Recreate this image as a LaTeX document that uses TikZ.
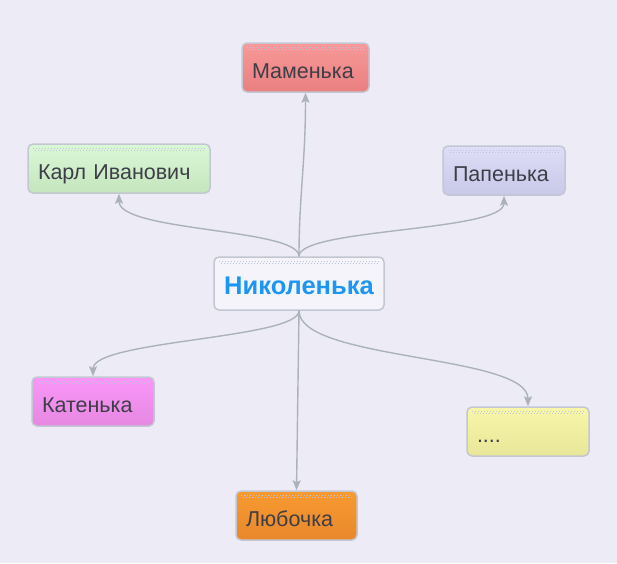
\documentclass[tikz,border=0pt]{standalone}
\usepackage{fontspec}
\setmainfont{Liberation Sans}
\usetikzlibrary{arrows.meta}
\definecolor{bgcol}{HTML}{EDECF6}
\definecolor{boxline}{HTML}{C3C7D3}
\definecolor{linkcol}{HTML}{ABB2BA}
\definecolor{txtcol}{HTML}{3E3E48}
\definecolor{nikblue}{HTML}{1B97F3}
\definecolor{dotcol}{HTML}{BEC3DE}
\tikzstyle{leaf} = [rectangle, rounded corners=5pt, minimum height=49pt, inner xsep=10pt, text height=21pt, text depth=0pt, align=left, draw=boxline, line width=1.5pt, text=txtcol, font=\fontsize{21.5}{24}\selectfont, path picture={\draw[dotcol, dash pattern=on 1pt off 2pt, line width=1pt] ([xshift=5pt,yshift=-4pt]path picture bounding box.north west) -- ([xshift=-5pt,yshift=-4pt]path picture bounding box.north east) ([xshift=6.5pt,yshift=-6pt]path picture bounding box.north west) -- ([xshift=-5pt,yshift=-6pt]path picture bounding box.north east);}]
\tikzstyle{root} = [leaf, minimum width=170pt, minimum height=53pt, align=center, fill=white!40!bgcol, text=nikblue, font=\fontsize{25.5}{28}\selectfont\bfseries]
\tikzstyle{arrow} = [draw=linkcol, line width=1.4pt, -{Stealth[length=10pt,width=8pt,inset=2pt]}]

\begin{document}
\begin{tikzpicture}[x=1pt, y=-1pt]
    \fill[bgcol] (0,0) rectangle (617,563);
    \useasboundingbox (0,0) rectangle (617,563);

    % Nodes
    \node (nik) [root] at (299,283.5) {Николенька};
    \node (mam) [leaf, top color={rgb,255:red,248;green,152;blue,152}, bottom color={rgb,255:red,233;green,128;blue,128}, text width=107pt] at (305.5,67.5) {Маменька};
    \node (karl) [leaf, top color={rgb,255:red,219;green,248;blue,214}, bottom color={rgb,255:red,196;green,229;blue,190}, text width=162pt] at (119,168.5) {Карл Иванович};
    \node (papa) [leaf, top color={rgb,255:red,222;green,222;blue,248}, bottom color={rgb,255:red,200;green,200;blue,232}, text width=102pt] at (504,170.5) {Папенька};
    \node (kat) [leaf, top color={rgb,255:red,250;green,150;blue,248}, bottom color={rgb,255:red,230;green,136;blue,226}, text width=102pt] at (93,401.5) {Катенька};
    \node (dots) [leaf, top color={rgb,255:red,248;green,246;blue,168}, bottom color={rgb,255:red,232;green,230;blue,152}, text width=102pt] at (528,431.5) {....};
    \node (lub) [leaf, top color={rgb,255:red,248;green,154;blue,48}, bottom color={rgb,255:red,232;green,136;blue,44}, text width=101pt] at (296.5,515.5) {Любочка};

    % Arrows
    \draw [arrow] (nik.north) .. controls +(0,-60) and +(0,70) .. (mam.south);
    \draw [arrow] (nik.north) .. controls +(0,-28) and +(0,38) .. (karl.south);
    \draw [arrow] (nik.north) .. controls +(0,-28) and +(0,36) .. (papa.south);
    \draw [arrow] (nik.south) .. controls +(0,28) and +(0,-36) .. (kat.north);
    \draw [arrow] (nik.south) .. controls +(0,50) and +(0,-52) .. (dots.north);
    \draw [arrow] (nik.south) -- (lub.north);
\end{tikzpicture}
\end{document}
